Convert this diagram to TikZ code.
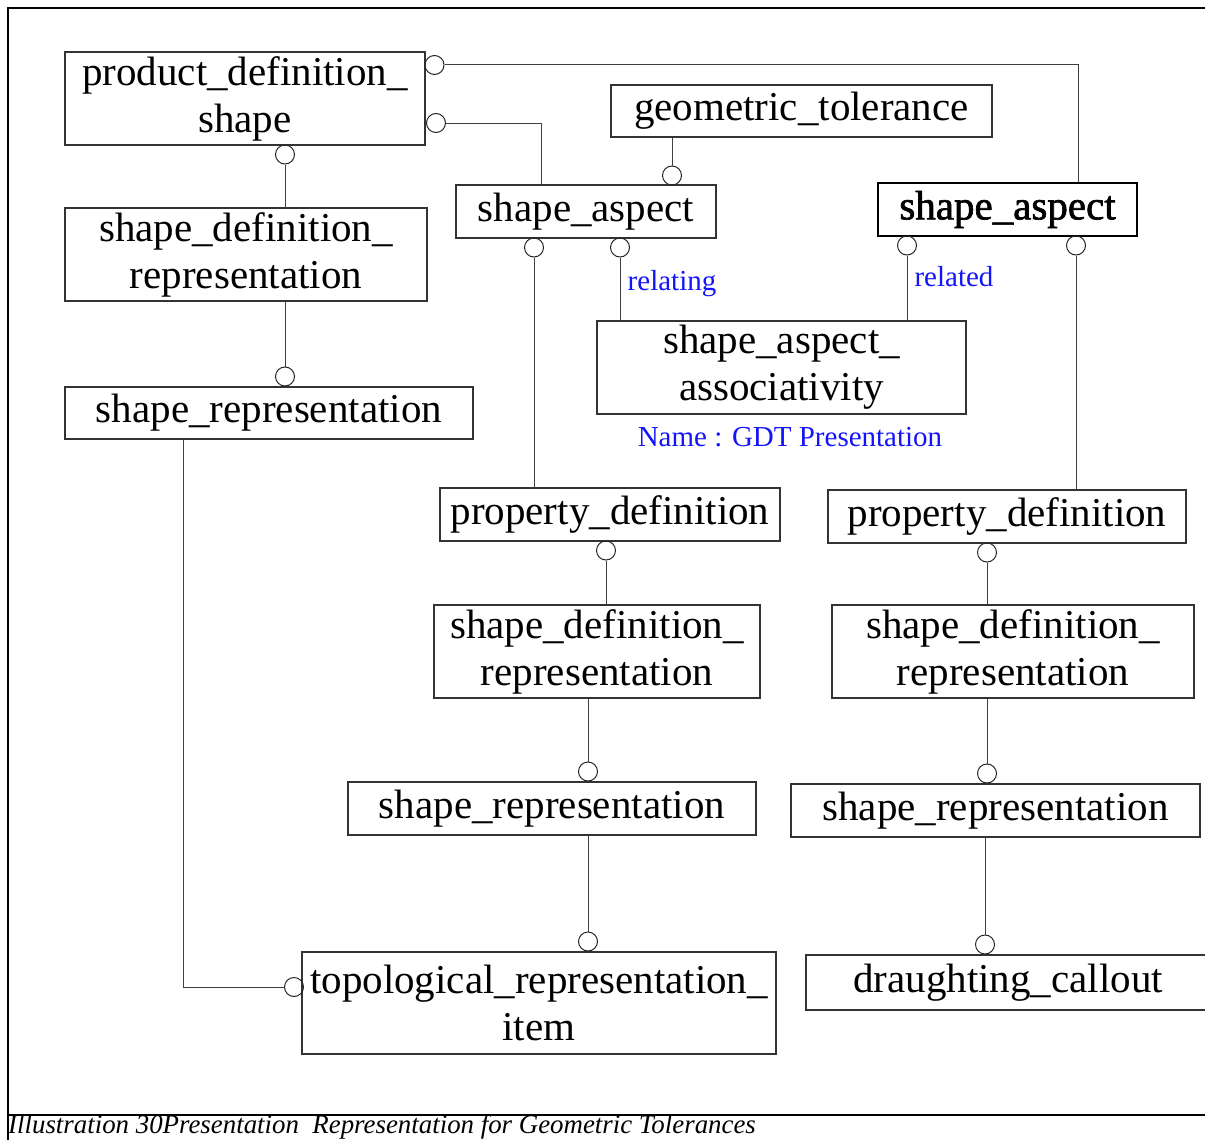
\documentclass[tikz,border=0pt]{standalone}
\usepackage{fontspec}
\setmainfont{Liberation Serif}
\newfontfamily\fbserif[FakeBold=1.6]{Liberation Serif}
\definecolor{lblblue}{RGB}{20,20,250}
\begin{document}
\begin{tikzpicture}[x=1pt,y=-1pt,
  ent/.style={draw=black!80,line width=1.1pt,inner sep=0pt,align=center,
    font=\fontsize{41}{47}\selectfont},
  ring/.style={circle,draw=black!85,line width=1pt,minimum size=19pt,inner sep=0pt},
  conn/.style={draw=black!75,line width=1pt},
  lbl/.style={text=lblblue,font=\fontsize{29}{34}\selectfont,anchor=base,inner sep=0pt}]
\useasboundingbox (0,0) rectangle (1205,1140);
% frame
\draw[black,line width=1.1pt] (1205,8) -- (8,8) -- (8,1140);
\draw[black,line width=1.1pt] (8,1115) -- (1205,1115);
% entities
\node[ent,minimum width=360pt,minimum height=93pt] (pds) at (245,98.5) {product\_definition\_\\shape};
\node[ent,minimum width=362pt,minimum height=93pt] (sdrA) at (246,254.5) {shape\_definition\_\\representation};
\node[ent,minimum width=408pt,minimum height=52pt] (srA) at (269,413) {shape\_representation};
\node[ent,minimum width=381pt,minimum height=52pt] (gt) at (801.5,111) {geometric\_tolerance};
\node[ent,minimum width=260pt,minimum height=53pt] (saL) at (586,211.5) {shape\_aspect};
\node[ent,draw=black,line width=2.2pt,minimum width=259pt,minimum height=53pt,font=\fontsize{41}{47}\fbserif] (saR) at (1007.5,209.5) {shape\_aspect};
\node[ent,minimum width=369pt,minimum height=93pt] (saa) at (781.5,367.5) {shape\_aspect\_\\associativity};
\node[ent,minimum width=340pt,minimum height=53pt] (pdA) at (610,514.5) {property\_definition};
\node[ent,minimum width=358pt,minimum height=53pt] (pdB) at (1007,516.5) {property\_definition};
\node[ent,minimum width=326pt,minimum height=93pt] (sdrB) at (597,651.5) {shape\_definition\_\\representation};
\node[ent,minimum width=362pt,minimum height=93pt] (sdrC) at (1013,651.5) {shape\_definition\_\\representation};
\node[ent,minimum width=408pt,minimum height=53pt] (srB) at (552,808.5) {shape\_representation};
\node[ent,minimum width=409pt,minimum height=53pt] (srC) at (995.5,810.5) {shape\_representation};
\node[ent,minimum width=474pt,minimum height=102pt] (tri) at (539,1003) {topological\_representation\_\\item};
\node[ent,minimum width=404pt,minimum height=55pt] (dc) at (1008,982.5) {draughting\_callout};
% rings
\node[ring] (cA) at (434.5,65) {};
\node[ring] (cB) at (436,123) {};
\node[ring] (cC) at (285,154.5) {};
\node[ring] (cD) at (285,376.5) {};
\node[ring] (cE) at (672,175.5) {};
\node[ring] (cF) at (534,247.5) {};
\node[ring] (cG) at (620,247.5) {};
\node[ring] (cH) at (907,245.5) {};
\node[ring] (cI) at (1076,245.5) {};
\node[ring] (cJ) at (606,550.5) {};
\node[ring] (cK) at (588,771.5) {};
\node[ring] (cL) at (588,941.5) {};
\node[ring] (cM) at (294,987) {};
\node[ring] (cN) at (987,552.5) {};
\node[ring] (cO) at (987,773.5) {};
\node[ring] (cP) at (985,944.5) {};
% bend coordinates
\coordinate (kA) at (1078,65);
\coordinate (kB) at (541,123);
\coordinate (kM) at (183,987);
% connectors
\draw[conn] (cA.east) -- (kA) -- (kA |- saR.north);
\draw[conn] (cB.east) -- (kB) -- (kB |- saL.north);
\draw[conn] (cC.south) -- (cC.south |- sdrA.north);
\draw[conn] (cD.north |- sdrA.south) -- (cD.north);
\draw[conn] (cE.north |- gt.south) -- (cE.north);
\draw[conn] (cF.south) -- (cF.south |- pdA.north);
\draw[conn] (cG.south) -- (cG.south |- saa.north);
\draw[conn] (cH.south) -- (cH.south |- saa.north);
\draw[conn] (cI.south) -- (cI.south |- pdB.north);
\draw[conn] (cJ.south) -- (cJ.south |- sdrB.north);
\draw[conn] (cK.north |- sdrB.south) -- (cK.north);
\draw[conn] (cL.north |- srB.south) -- (cL.north);
\draw[conn] (kM |- srA.south) -- (kM) -- (cM.west);
\draw[conn] (cN.south) -- (cN.south |- sdrC.north);
\draw[conn] (cO.north |- sdrC.south) -- (cO.north);
\draw[conn] (cP.north |- srC.south) -- (cP.north);
% labels
\node[lbl] (lrel) at (672,290) {relating};
\node[lbl] (lred) at (954,286) {related};
\node[lbl] (lname) at (790,446) {Name : GDT Presentation};
% caption
\node[anchor=base west,inner sep=0pt,font=\fontsize{27}{31}\selectfont\itshape] (cap) at (8,1133)
  {\scalebox{0.995}[1]{Illustration 30Presentation\ \ Representation for Geometric Tolerances}};
\end{tikzpicture}
\end{document}
